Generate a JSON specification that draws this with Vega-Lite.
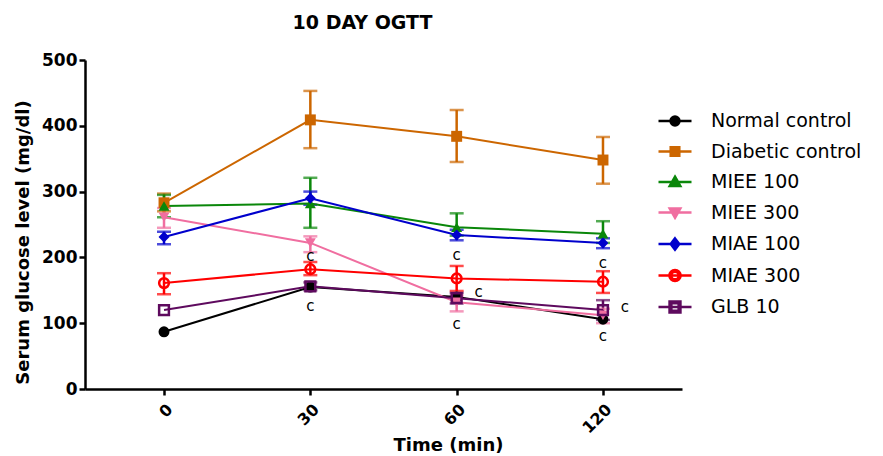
{
  "$schema": "https://vega.github.io/schema/vega-lite/v6.json",
  "width": 597,
  "height": 329,
  "autosize": "none",
  "padding": {"left": 85, "top": 60, "right": 201, "bottom": 67},
  "background": "white",
  "title": {"text": "10 DAY OGTT", "anchor": "middle", "frame": "group", "dx": -21, "offset": 18, "font": "DejaVu Sans", "fontSize": 19, "fontWeight": "bold", "color": "black"},
  "config": {
    "font": "DejaVu Sans",
    "view": {"stroke": null},
    "axis": {"domainColor": "black", "domainWidth": 2.5, "tickColor": "black", "tickWidth": 2.5, "tickSize": 6, "labelFont": "DejaVu Sans", "labelFontWeight": "bold", "labelColor": "black", "titleFont": "DejaVu Sans", "titleFontWeight": "bold", "titleColor": "black", "grid": false}
  },
  "datasets": {
    "obs": [
      {"group": "Normal control", "time": "0", "mean": 87, "lo": null, "hi": null},
      {"group": "Normal control", "time": "30", "mean": 155, "lo": null, "hi": null},
      {"group": "Normal control", "time": "60", "mean": 140, "lo": null, "hi": null},
      {"group": "Normal control", "time": "120", "mean": 106, "lo": null, "hi": null},
      {"group": "Diabetic control", "time": "0", "mean": 283, "lo": 270, "hi": 297},
      {"group": "Diabetic control", "time": "30", "mean": 409, "lo": 366, "hi": 453},
      {"group": "Diabetic control", "time": "60", "mean": 384, "lo": 345, "hi": 424},
      {"group": "Diabetic control", "time": "120", "mean": 348, "lo": 312, "hi": 383},
      {"group": "MIEE 100", "time": "0", "mean": 278, "lo": 261, "hi": 295},
      {"group": "MIEE 100", "time": "30", "mean": 282, "lo": 245, "hi": 321},
      {"group": "MIEE 100", "time": "60", "mean": 246, "lo": 233, "hi": 267},
      {"group": "MIEE 100", "time": "120", "mean": 236, "lo": 222, "hi": 255},
      {"group": "MIEE 300", "time": "0", "mean": 261, "lo": 245, "hi": 275},
      {"group": "MIEE 300", "time": "30", "mean": 222, "lo": 208, "hi": 232},
      {"group": "MIEE 300", "time": "60", "mean": 132, "lo": 118, "hi": 142},
      {"group": "MIEE 300", "time": "120", "mean": 112, "lo": 100, "hi": 122},
      {"group": "MIAE 100", "time": "0", "mean": 231, "lo": 220, "hi": 239},
      {"group": "MIAE 100", "time": "30", "mean": 290, "lo": 280, "hi": 300},
      {"group": "MIAE 100", "time": "60", "mean": 234, "lo": 226, "hi": 242},
      {"group": "MIAE 100", "time": "120", "mean": 222, "lo": 214, "hi": 229},
      {"group": "MIAE 300", "time": "0", "mean": 161, "lo": 144, "hi": 176},
      {"group": "MIAE 300", "time": "30", "mean": 182, "lo": 173, "hi": 193},
      {"group": "MIAE 300", "time": "60", "mean": 168, "lo": 149, "hi": 187},
      {"group": "MIAE 300", "time": "120", "mean": 163, "lo": 146, "hi": 179},
      {"group": "GLB 10", "time": "0", "mean": 120, "lo": null, "hi": null},
      {"group": "GLB 10", "time": "30", "mean": 156, "lo": 150, "hi": 162},
      {"group": "GLB 10", "time": "60", "mean": 138, "lo": 130, "hi": 146},
      {"group": "GLB 10", "time": "120", "mean": 120, "lo": 105, "hi": 135}
    ],
    "sigCenter": [
      {"time": "30", "value": 202, "label": "c"},
      {"time": "30", "value": 126, "label": "c"},
      {"time": "60", "value": 204, "label": "c"},
      {"time": "60", "value": 99, "label": "c"},
      {"time": "120", "value": 191, "label": "c"},
      {"time": "120", "value": 80, "label": "c"}
    ],
    "sigRight": [
      {"time": "60", "value": 147, "label": "c"},
      {"time": "120", "value": 125, "label": "c"}
    ]
  },
  "encoding": {
    "x": {
      "field": "time", "type": "ordinal",
      "scale": {"type": "point", "domain": ["0", "30", "60", "120"], "padding": 0.54},
      "axis": {"title": "Time (min)", "labelAngle": -45, "labelFontSize": 16, "labelPadding": 6, "titleFontSize": 18, "titleX": 363, "titleY": 61, "titleBaseline": "alphabetic", "titleAnchor": "middle", "titleAlign": "center"}
    }
  },
  "resolve": {"scale": {"shape": "independent", "fill": "independent", "stroke": "independent"}},
  "layer": [
    {
      "data": {"name": "obs"},
      "mark": {"type": "rule", "strokeWidth": 2.5},
      "encoding": {
        "y": {"field": "lo", "type": "quantitative", "title": "Serum glucose level (mg/dl)",
          "scale": {"domain": [0, 500], "nice": false},
          "axis": {"tickCount": 5, "labelFontSize": 17, "labelPadding": 2, "titleFontSize": 18, "titleX": -57, "titleY": 182, "titleBaseline": "alphabetic", "titleAlign": "center", "titleAngle": -90}},
        "y2": {"field": "hi"},
        "color": {"field": "group", "type": "nominal", "legend": null,
          "scale": {"domain": ["Normal control", "Diabetic control", "MIEE 100", "MIEE 300", "MIAE 100", "MIAE 300", "GLB 10"],
                    "range": ["#000000", "#CC6600", "#0A870A", "#F06EA0", "#0000CC", "#FF0000", "#5E0A5E"]}}
      }
    },
    {
      "data": {"name": "obs"},
      "mark": {"type": "tick", "thickness": 2.5, "size": 14},
      "encoding": {
        "y": {"field": "lo", "type": "quantitative", "title": "Serum glucose level (mg/dl)"},
        "color": {"field": "group", "type": "nominal", "legend": null}
      }
    },
    {
      "data": {"name": "obs"},
      "mark": {"type": "tick", "thickness": 2.5, "size": 14},
      "encoding": {
        "y": {"field": "hi", "type": "quantitative", "title": "Serum glucose level (mg/dl)"},
        "color": {"field": "group", "type": "nominal", "legend": null}
      }
    },
    {
      "data": {"name": "obs"},
      "mark": {"type": "line", "strokeWidth": 2},
      "encoding": {
        "y": {"field": "mean", "type": "quantitative", "title": "Serum glucose level (mg/dl)"},
        "color": {"field": "group", "type": "nominal", "legend": null}
      }
    },
    {
      "data": {"name": "obs"},
      "transform": [{"filter": {"field": "group", "oneOf": ["Normal control", "Diabetic control", "MIEE 100", "MIEE 300", "MIAE 100"]}}],
      "mark": {"type": "point", "filled": true, "opacity": 1, "size": 120},
      "encoding": {
        "y": {"field": "mean", "type": "quantitative", "title": "Serum glucose level (mg/dl)"},
        "color": {"field": "group", "type": "nominal", "legend": null},
        "shape": {"field": "group", "type": "nominal", "legend": null,
          "scale": {"domain": ["Normal control", "Diabetic control", "MIEE 100", "MIEE 300", "MIAE 100", "MIAE 300", "GLB 10"],
                    "range": ["circle", "square", "triangle-up", "triangle-down", "diamond", "circle", "square"]}}
      }
    },
    {
      "data": {"name": "obs"},
      "transform": [{"filter": {"field": "group", "oneOf": ["MIAE 300", "GLB 10"]}}],
      "mark": {"type": "point", "filled": false, "opacity": 1, "size": 95, "strokeWidth": 2.5},
      "encoding": {
        "y": {"field": "mean", "type": "quantitative", "title": "Serum glucose level (mg/dl)"},
        "color": {"field": "group", "type": "nominal", "legend": null},
        "shape": {"field": "group", "type": "nominal", "legend": null,
          "scale": {"domain": ["Normal control", "Diabetic control", "MIEE 100", "MIEE 300", "MIAE 100", "MIAE 300", "GLB 10"],
                    "range": ["circle", "square", "triangle-up", "triangle-down", "diamond", "circle", "square"]}}
      }
    },
    {
      "data": {"name": "sigCenter"},
      "mark": {"type": "text", "fontSize": 15, "align": "center", "baseline": "middle", "color": "black", "font": "DejaVu Sans"},
      "encoding": {
        "y": {"field": "value", "type": "quantitative", "title": "Serum glucose level (mg/dl)"},
        "text": {"field": "label"}
      }
    },
    {
      "data": {"name": "sigRight"},
      "mark": {"type": "text", "fontSize": 15, "align": "center", "baseline": "middle", "color": "black", "dx": 22, "font": "DejaVu Sans"},
      "encoding": {
        "y": {"field": "value", "type": "quantitative", "title": "Serum glucose level (mg/dl)"},
        "text": {"field": "label"}
      }
    },
    {
      "data": {"name": "obs"},
      "transform": [{"filter": "datum.mean < 0"}],
      "mark": {"type": "point", "filled": true, "opacity": 1, "strokeWidth": 2.5},
      "encoding": {
        "y": {"field": "mean", "type": "quantitative", "title": "Serum glucose level (mg/dl)"},
        "shape": {"field": "group", "type": "nominal",
          "scale": {"domain": ["Normal control", "Diabetic control", "MIEE 100", "MIEE 300", "MIAE 100", "MIAE 300", "GLB 10"],
                    "range": [
                      "M-1,0H1M-0.27,0A0.27,0.27,0,1,0,0.27,0A0.27,0.27,0,1,0,-0.27,0Z",
                      "M-1,0H1M-0.26,-0.26H0.26V0.26H-0.26Z",
                      "M-1,0H1M0,-0.32L0.32,0.24H-0.32Z",
                      "M-1,0H1M0,0.32L0.32,-0.24H-0.32Z",
                      "M-1,0H1M0,-0.34L0.26,0L0,0.34L-0.26,0Z",
                      "M-1,0H1M-0.34,0A0.34,0.34,0,1,0,0.34,0A0.34,0.34,0,1,0,-0.34,0ZM-0.23,0A0.23,0.23,0,1,1,0.23,0A0.23,0.23,0,1,1,-0.23,0Z",
                      "M-1,0H1M-0.33,-0.33H0.33V0.33H-0.33ZM-0.22,-0.22V0.22H0.22V-0.22Z"
                    ]},
          "legend": {"title": null, "orient": "none", "legendX": 572, "legendY": 43, "symbolSize": 1089, "symbolStrokeWidth": 2.5, "symbolOpacity": 1, "labelFontSize": 19, "labelFont": "DejaVu Sans", "labelColor": "black", "labelOffset": 18, "rowPadding": 2.5, "padding": 0}},
        "fill": {"field": "group", "type": "nominal",
          "scale": {"domain": ["Normal control", "Diabetic control", "MIEE 100", "MIEE 300", "MIAE 100", "MIAE 300", "GLB 10"],
                    "range": ["#000000", "#CC6600", "#0A870A", "#F06EA0", "#0000CC", "#FF0000", "#5E0A5E"]},
          "legend": {"title": null, "orient": "none", "legendX": 572, "legendY": 43, "symbolSize": 1089, "symbolStrokeWidth": 2.5, "symbolOpacity": 1, "labelFontSize": 19, "labelFont": "DejaVu Sans", "labelColor": "black", "labelOffset": 18, "rowPadding": 2.5, "padding": 0}},
        "stroke": {"field": "group", "type": "nominal",
          "scale": {"domain": ["Normal control", "Diabetic control", "MIEE 100", "MIEE 300", "MIAE 100", "MIAE 300", "GLB 10"],
                    "range": ["#000000", "#CC6600", "#0A870A", "#F06EA0", "#0000CC", "#FF0000", "#5E0A5E"]},
          "legend": {"title": null, "orient": "none", "legendX": 572, "legendY": 43, "symbolSize": 1089, "symbolStrokeWidth": 2.5, "symbolOpacity": 1, "labelFontSize": 19, "labelFont": "DejaVu Sans", "labelColor": "black", "labelOffset": 18, "rowPadding": 2.5, "padding": 0}}
      }
    }
  ]
}
